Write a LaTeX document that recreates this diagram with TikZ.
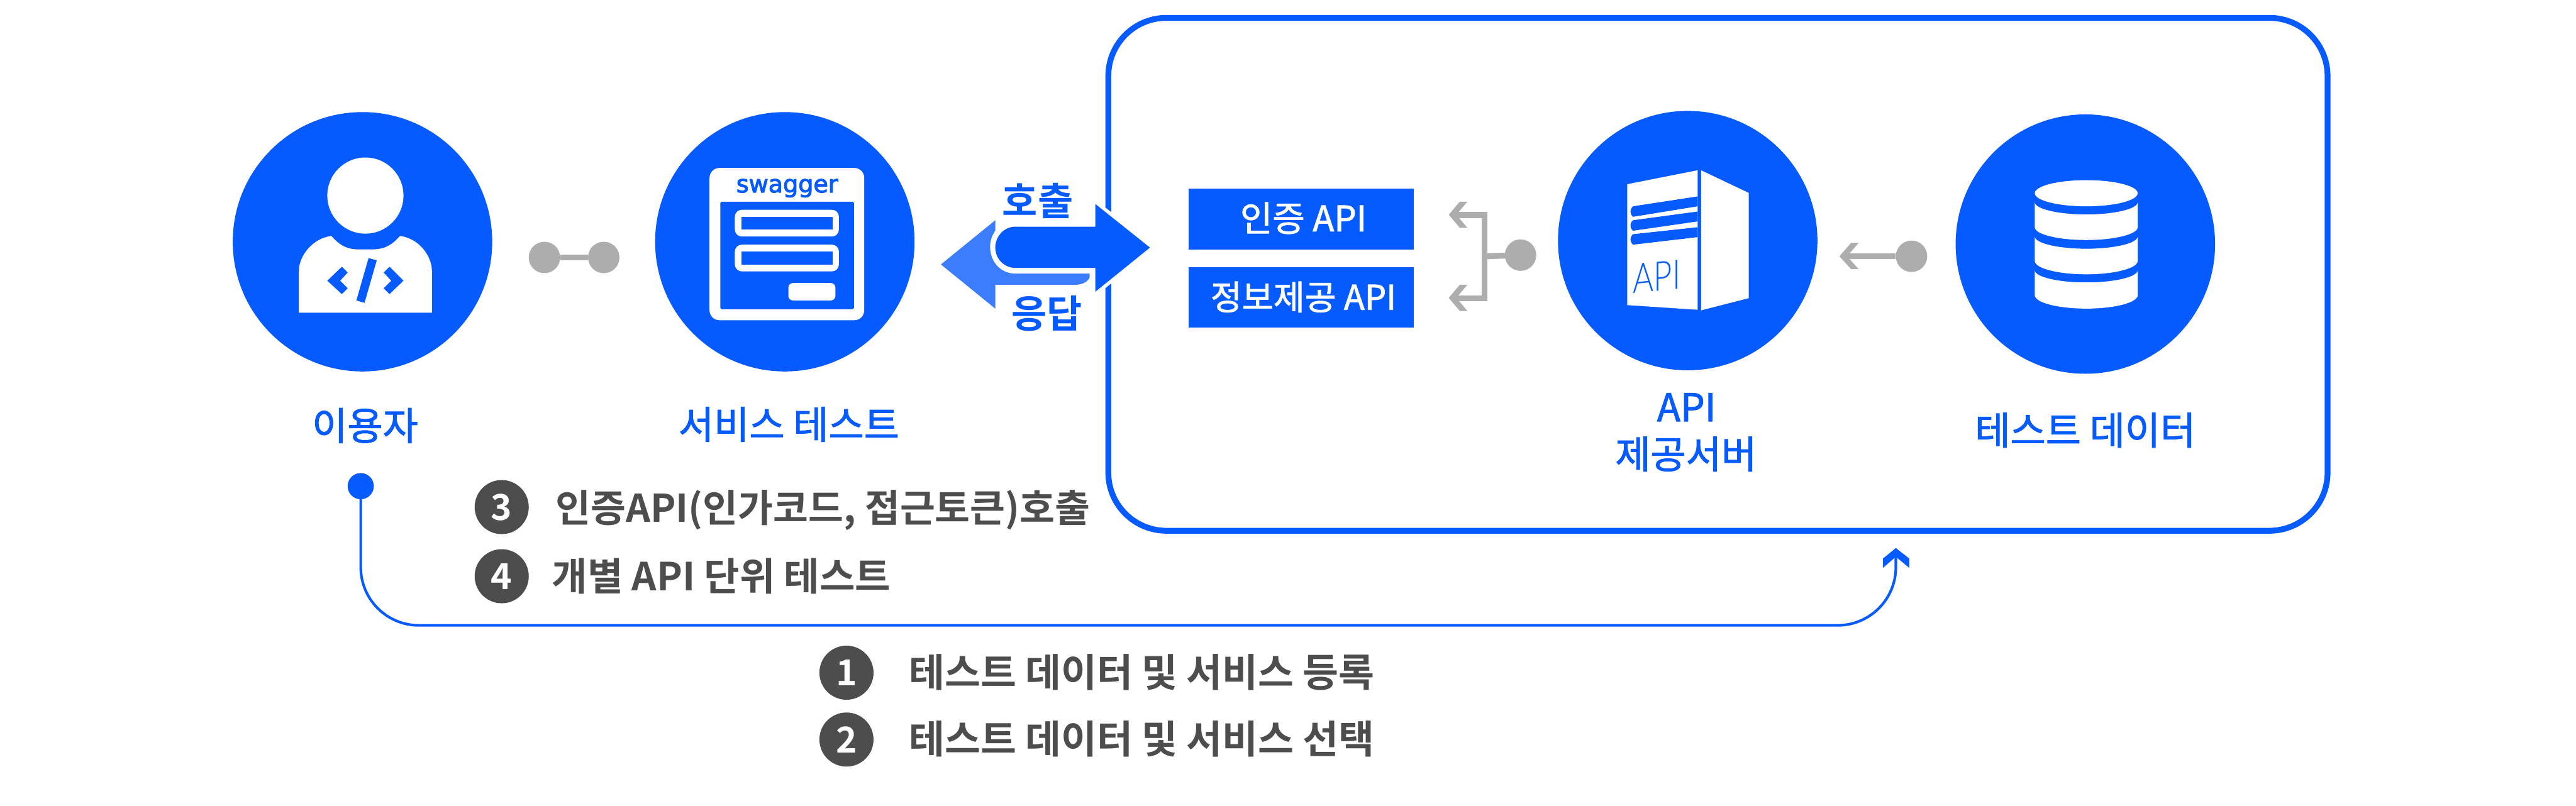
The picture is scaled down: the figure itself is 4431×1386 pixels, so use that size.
\documentclass[tikz,border=0pt]{standalone}
\usepackage{fontspec}
\setmainfont{Noto Sans CJK KR}[FakeBold=1.6]
\newfontfamily\krbold{Noto Sans CJK KR Bold}
\newfontfamily\thinfont{Lato Light}
\newfontfamily\swfont{DejaVu Sans}[FakeBold=3]
\definecolor{mainblue}{HTML}{055BFF}
\definecolor{lightblue}{HTML}{3C7DFF}
\definecolor{midgray}{HTML}{ADADAD}
\definecolor{darkgray}{HTML}{4D4D4D}
\newcommand{\dbseg}[4]{%
  \fill[white] (3500,#1) .. controls (3500,{#1+.55*(#2-#1)}) and (3540,#2) .. (3588.5,#2)
    .. controls (3637,#2) and (3677,{#1+.55*(#2-#1)}) .. (3677,#1) -- (3677,#3)
    .. controls (3677,{#3+.55*(#4-#3)}) and (3637,#4) .. (3588.5,#4)
    .. controls (3540,#4) and (3500,{#3+.55*(#4-#3)}) .. (3500,#3) -- cycle;}
\tikzset{
  bigdisc/.style={circle,fill=mainblue,inner sep=0pt,outer sep=0pt,minimum size=4.46cm},
  graydot/.style={circle,fill=midgray,inner sep=0pt,outer sep=0pt,minimum size=0.54cm},
  numdisc/.style={circle,fill=darkgray,text=white,inner sep=0pt,outer sep=0pt,minimum size=0.93cm,font=\krbold\fontsize{17.5pt}{20pt}\selectfont},
  grayline/.style={draw=midgray,line width=0.1cm},
  grayhead/.style={fill=midgray},
  flow/.style={draw=mainblue,line width=0.045cm},
  bluelabel/.style={text=mainblue,inner sep=0pt,anchor=base,font=\fontsize{18.8pt}{22pt}\selectfont},
  arrowlabel/.style={text=mainblue,inner sep=0pt,anchor=base,font=\krbold\fontsize{18.8pt}{22pt}\selectfont},
  steptext/.style={text=darkgray,inner sep=0pt,anchor=base west},
  apibox/.style={fill=mainblue,inner sep=0pt,outer sep=0pt,minimum width=3.87cm,minimum height=1.04cm},
}
\begin{document}
\begin{tikzpicture}[x=0.01cm,y=-0.01cm]
\useasboundingbox (0,0) rectangle (4431,1386);
\fill[white] (0,0) rectangle (4431,1386);

% service boundary
\node[draw=mainblue,line width=0.1cm,rounded corners=1cm,minimum width=20.96cm,minimum height=8.82cm,inner sep=0pt,outer sep=0pt] (svcbox) at (2955,472) {};

% discs
\node[bigdisc] (user) at (623.5,416) {};
\node[bigdisc] (swag) at (1350,416) {};
\node[bigdisc] (server) at (2903,414) {};
\node[bigdisc] (db) at (3587,420) {};

% user icon
\fill[white] (628.5,336.5) circle[radius=65.5];
\fill[white] (570,406) .. controls (592,432) and (610,429) .. (628.5,429)
  .. controls (647,429) and (666,432) .. (688,406)
  .. controls (720,410) and (743,440) .. (743,467) -- (743,538) -- (514,538) -- (514,467)
  .. controls (514,440) and (538,410) .. (570,406) -- cycle;
\fill[mainblue] (563,483) -- (588,459) -- (598,469) -- (585,483) -- (598,496) -- (588,506) -- cycle;
\fill[mainblue] (634,444) -- (648,448) -- (627,521) -- (613,517) -- cycle;
\fill[mainblue] (694,483) -- (670,459) -- (660,469) -- (673,483) -- (660,496) -- (670,506) -- cycle;

% swagger icon
\fill[white,rounded corners=0.17cm] (1220.5,289) rectangle (1486.5,551);
\fill[mainblue,rounded corners=0.03cm] (1239,347) rectangle (1469,532);
\fill[white,rounded corners=0.12cm] (1264,361) rectangle (1443,407);
\fill[mainblue] (1275,373) rectangle (1432,395);
\fill[white,rounded corners=0.12cm] (1264,421) rectangle (1443,467);
\fill[mainblue] (1275,433) rectangle (1432,455);
\fill[white,rounded corners=0.08cm] (1356,487) rectangle (1437,517);
\node[text=mainblue,inner sep=0pt,anchor=base,font=\swfont\fontsize{11.7pt}{14pt}\selectfont] (swagtxt) at (1354,331) {swagger};

% server icon
\fill[white] (2799,317) -- (2920,293) -- (2920,533) -- (2799,525) -- cycle;
\fill[white] (2926,293) -- (3008,332) -- (3008,513) -- (2926,534) -- cycle;
\fill[mainblue] (2809,355) -- (2920,338) -- (2920,355) -- (2809,373) .. controls (2803,368) and (2803,360) .. (2809,355) -- cycle;
\fill[mainblue] (2809,379) -- (2920,364) -- (2920,381) -- (2809,397) .. controls (2803,392) and (2803,384) .. (2809,379) -- cycle;
\fill[mainblue] (2809,403) -- (2920,391) -- (2920,408) -- (2809,421) .. controls (2803,416) and (2803,408) .. (2809,403) -- cycle;
\begin{scope}[shift={(2850,476)},yslant=0.1,xscale=0.78]
\node[transform shape,text=blue!60!cyan!30!mainblue,inner sep=0pt,font=\thinfont\fontsize{20pt}{22pt}\selectfont] (srvapi) at (0,0) {API};
\end{scope}

% database icon
\fill[white] (3588.5,332.5) ellipse[x radius=88.5,y radius=22.5];
\dbseg{348}{369}{391}{413}
\dbseg{407}{428}{449}{472}
\dbseg{465}{486}{508}{531}

% gray connector: user - swagger
\node[graydot] (gd1) at (936.5,443) {};
\node[graydot] (gd2) at (1038.5,443) {};
\draw[grayline] (gd1) -- (gd2);

% gray fork: server dot to API boxes
\node[graydot] (fdot) at (2615.5,439) {};
\coordinate (ftop) at (2503,370);
\coordinate (fbot) at (2503,513);
\coordinate (fup) at (2553.5,370);
\coordinate (fdown) at (2553.5,513);
\coordinate (fmid) at (2553.5,441);
\draw[grayline] (ftop) -- (fup) -- (fdown) -- (fbot);
\draw[grayline] (fdot) -- (fmid);
\fill[grayhead] (2511,347) -- (2524,347) -- (2505,369.5) -- (2524,392) -- (2511,392) -- (2492,369.5) -- cycle;
\fill[grayhead] (2511,490) -- (2524,490) -- (2505,512.5) -- (2524,535) -- (2511,535) -- (2492,512.5) -- cycle;

% gray arrow: db dot to server
\node[graydot] (ddot) at (3288,441) {};
\coordinate (dtip) at (3177,441);
\draw[grayline] (ddot) -- (dtip);
\fill[grayhead] (3184,418) -- (3197,418) -- (3177,441) -- (3197,463) -- (3184,463) -- (3164,441) -- cycle;

% API boxes
\node[apibox] (authapi) at (2238.5,377) {};
\node[apibox] (infoapi) at (2238.5,512) {};
\node[text=white,inner sep=0pt,anchor=base,font=\fontsize{17.2pt}{20pt}\selectfont] (authtxt) at (2242,398) {인증 API};
\node[text=white,inner sep=0pt,anchor=base,font=\fontsize{16.7pt}{20pt}\selectfont] (infotxt) at (2242,533) {정보제공 API};

% call / response arrows
\fill[lightblue] (1618.5,455) -- (1712,379) -- (1712,397)
  .. controls (1706,405) and (1703,415) .. (1703,425)
  .. controls (1703,452) and (1722,471) .. (1747,471) -- (1874,471) -- (1874,478)
  .. controls (1870,486) and (1860,490) .. (1849,490) -- (1712,490) -- (1712,531) -- cycle;
\draw[white,line width=0.12cm,fill=mainblue] (1978,426) -- (1884,351) -- (1884,390) -- (1747,390)
  .. controls (1726,390) and (1712,408) .. (1712,426)
  .. controls (1712,444) and (1726,461) .. (1747,461) -- (1884,461) -- (1884,502) -- cycle;
\fill[lightblue] (1703,425) .. controls (1703,452) and (1722,471) .. (1747,471) -- (1874,471) -- (1874,478) -- (1720,478) -- (1703,460) -- cycle;
\fill[mainblue] (1978,426) -- (1884,351) -- (1884,390) -- (1747,390)
  .. controls (1726,390) and (1712,408) .. (1712,426)
  .. controls (1712,444) and (1726,461) .. (1747,461) -- (1884,461) -- (1884,502) -- cycle;
\node[arrowlabel] (calltxt) at (1785,371) {호출};
\node[arrowlabel] (resptxt) at (1801,564) {응답};

% labels
\node[bluelabel] (userlbl) at (628,757) {이용자};
\node[bluelabel] (swaglbl) at (1357,755) {서비스 테스트};
\node[bluelabel] (srvlbl1) at (2901,725) {API};
\node[bluelabel] (srvlbl2) at (2900,806) {제공서버};
\node[bluelabel] (dblbl) at (3587,765) {테스트 데이터};

% main flow
\node[circle,fill=mainblue,inner sep=0pt,outer sep=0pt,minimum size=0.45cm] (udot) at (620.5,836.5) {};
\coordinate (fcorner) at (3261,1076);
\coordinate (ftip) at (3261,955);
\draw[flow,rounded corners=1cm] (udot) |- (fcorner) -- (ftip);
\fill[mainblue] (3261,943) -- (3284,961) -- (3284,977) -- (3261,958) -- (3239,977) -- (3239,961) -- cycle;

% steps
\node[numdisc] (n3) at (863,872.5) {3};
\node[numdisc] (n4) at (863,991.5) {4};
\node[numdisc] (n1) at (1456,1157.5) {1};
\node[numdisc] (n2) at (1456,1272.5) {2};
\node[steptext,font=\krbold\fontsize{18.7pt}{22pt}\selectfont] (t3) at (955,898) {인증API(인가코드, 접근토큰)호출};
\node[steptext,font=\krbold\fontsize{18.9pt}{22pt}\selectfont] (t4) at (949,1016) {개별 API 단위 테스트};
\node[steptext,font=\krbold\fontsize{19.05pt}{22pt}\selectfont] (t1) at (1563,1182) {테스트 데이터 및 서비스 등록};
\node[steptext,font=\krbold\fontsize{19.05pt}{22pt}\selectfont] (t2) at (1563,1297) {테스트 데이터 및 서비스 선택};
\end{tikzpicture}
\end{document}
